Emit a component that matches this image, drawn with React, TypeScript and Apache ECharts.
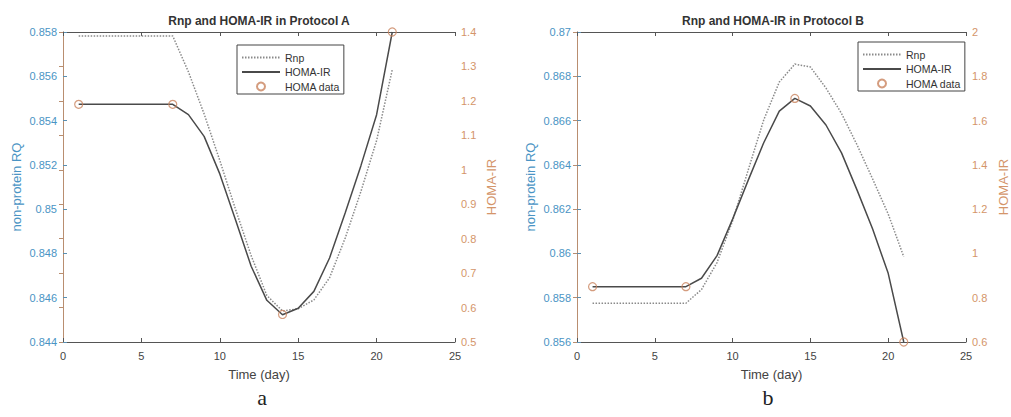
import React, { useEffect, useRef } from "react";
import * as echarts from "echarts";

// ---- data ----
const days = [1, 2, 3, 4, 5, 6, 7, 8, 9, 10, 11, 12, 13, 14, 15, 16, 17, 18, 19, 20, 21];

const rnpA = [0.85782, 0.85782, 0.85782, 0.85782, 0.85782, 0.85782, 0.85782, 0.8562, 0.8543, 0.8522, 0.8500, 0.8479, 0.8461, 0.8454, 0.8455, 0.8459, 0.8469, 0.8487, 0.8508, 0.8531, 0.8563];
const homaA = [1.19, 1.19, 1.19, 1.19, 1.19, 1.19, 1.19, 1.16, 1.097, 0.988, 0.855, 0.72, 0.621, 0.579, 0.598, 0.647, 0.744, 0.875, 1.012, 1.16, 1.40];
const dataDays = [1, 7, 14, 21];
const homaDataA = [1.19, 1.19, 0.58, 1.40];

const rnpB = [0.85775, 0.85775, 0.85775, 0.85775, 0.85775, 0.85775, 0.85775, 0.85837, 0.85959, 0.86147, 0.86376, 0.86603, 0.86774, 0.86855, 0.86842, 0.86747, 0.86632, 0.8649, 0.86336, 0.86178, 0.85985];
const homaB = [0.85, 0.85, 0.85, 0.85, 0.85, 0.85, 0.85, 0.888, 0.99, 1.155, 1.33, 1.5, 1.643, 1.7, 1.666, 1.58, 1.454, 1.286, 1.11, 0.91, 0.6];
const homaDataB = [0.85, 0.85, 1.7, 0.6];

const titles = ["Rnp and HOMA-IR in Protocol A", "Rnp and HOMA-IR in Protocol B"];
const panelLabels = ["a", "b"];
const seriesNames = ["Rnp", "HOMA-IR", "HOMA data"];

const FONT = "'Liberation Sans', Arial, Helvetica, sans-serif";
const BLUE_LABEL = "#4a94c4";
const BLUE_LINE = "#5b8fb0";
const ORANGE_LABEL = "#d4956a";
const ORANGE_LINE = "#b98e70";
const DARK = "#555";
const CIRCLE = "#c9835e";

const pairs = (xs: number[], ys: number[]) => xs.map((x, i) => [x, ys[i]]);

function buildOption() {
  const grids = [
    { left: 63, top: 32, width: 392, height: 310 },
    { left: 577, top: 32, width: 392, height: 310 },
  ];
  const yRanges = [
    { lmin: 0.844, lmax: 0.858, lint: 0.002, rmin: 0.5, rmax: 1.4, rint: 0.1, rGap: 30 },
    { lmin: 0.856, lmax: 0.87, lint: 0.002, rmin: 0.6, rmax: 2, rint: 0.2, rGap: 31 },
  ];
  const xAxis: any[] = [];
  const yAxis: any[] = [];
  const series: any[] = [];
  const rnp = [rnpA, rnpB];
  const homa = [homaA, homaB];
  const hdata = [homaDataA, homaDataB];

  for (let g = 0; g < 2; g++) {
    xAxis.push({
      type: "value",
      gridIndex: g,
      position: "bottom",
      min: 0,
      max: 25,
      interval: 5,
      name: "Time (day)",
      nameLocation: "middle",
      nameGap: 26,
      nameTextStyle: { color: "#444", fontSize: 13, fontFamily: FONT },
      axisLine: { lineStyle: { color: DARK, width: 1 } },
      axisTick: { inside: true, length: 4, lineStyle: { color: DARK } },
      axisLabel: { color: "#444", fontSize: 11, fontFamily: FONT, margin: 8 },
      splitLine: { show: false },
    });
    xAxis.push({
      type: "value",
      gridIndex: g,
      position: "top",
      min: 0,
      max: 25,
      interval: 5,
      axisLine: { lineStyle: { color: DARK, width: 1 } },
      axisTick: { inside: true, length: 4, lineStyle: { color: DARK } },
      axisLabel: { show: false },
      splitLine: { show: false },
    });
    const r = yRanges[g];
    yAxis.push({
      type: "value",
      gridIndex: g,
      position: "left",
      min: r.lmin,
      max: r.lmax,
      interval: r.lint,
      name: "non-protein RQ",
      nameLocation: "middle",
      nameGap: 40,
      nameTextStyle: { color: BLUE_LABEL, fontSize: 13, fontFamily: FONT },
      axisLine: { show: true, lineStyle: { color: BLUE_LINE, width: 1 } },
      axisTick: { show: true, inside: true, length: 4, lineStyle: { color: BLUE_LINE } },
      axisLabel: {
        color: BLUE_LABEL,
        fontSize: 11,
        fontFamily: FONT,
        margin: 6,
        formatter: (v: number) => String(parseFloat(v.toFixed(3))),
      },
      splitLine: { show: false },
    });
    yAxis.push({
      type: "value",
      gridIndex: g,
      position: "right",
      min: r.rmin,
      max: r.rmax,
      interval: r.rint,
      name: "HOMA-IR",
      nameLocation: "middle",
      nameGap: r.rGap,
      nameTextStyle: { color: ORANGE_LABEL, fontSize: 13, fontFamily: FONT },
      axisLine: { show: true, lineStyle: { color: ORANGE_LINE, width: 1 } },
      axisTick: { show: true, inside: true, length: 4, lineStyle: { color: ORANGE_LINE } },
      axisLabel: {
        color: ORANGE_LABEL,
        fontSize: 11,
        fontFamily: FONT,
        margin: 6,
        formatter: (v: number) => String(parseFloat(v.toFixed(1))),
      },
      splitLine: { show: false },
    });

    series.push({
      name: seriesNames[0],
      type: "line",
      xAxisIndex: g * 2,
      yAxisIndex: g * 2,
      data: pairs(days, rnp[g]),
      symbol: "none",
      lineStyle: { color: "#8a8a8a", width: 1.5, type: [1.5, 1.5] },
      itemStyle: { color: "#8a8a8a" },
    });
    series.push({
      name: seriesNames[1],
      type: "line",
      xAxisIndex: g * 2,
      yAxisIndex: g * 2 + 1,
      data: pairs(days, homa[g]),
      symbol: "none",
      lineStyle: { color: "#4a4a4a", width: 1.5, type: "solid" },
      itemStyle: { color: "#4a4a4a" },
    });
    series.push({
      name: seriesNames[2],
      type: "scatter",
      xAxisIndex: g * 2,
      yAxisIndex: g * 2 + 1,
      data: pairs(dataDays, hdata[g]),
      symbol: "circle",
      symbolSize: 8,
      itemStyle: { color: "rgba(255,255,255,0)", borderColor: CIRCLE, borderWidth: 1.2 },
      z: 5,
    });
  }

  const legendData = [
    { name: seriesNames[0], itemStyle: { opacity: 0 } },
    { name: seriesNames[1], itemStyle: { opacity: 0 } },
    { name: seriesNames[2] },
  ];

  const legendBase = {
    orient: "vertical",
    backgroundColor: "#fff",
    borderColor: "#444",
    borderWidth: 1,
    borderRadius: 0,
    padding: [7, 4, 2, 4],
    itemWidth: 38,
    itemHeight: 8,
    itemGap: 3.5,
    textStyle: { color: "#333", fontSize: 10.5, fontFamily: FONT },
    data: legendData,
    selectedMode: false,
  };

  const graphic: any[] = [];
  const centers = [259, 773];
  for (let g = 0; g < 2; g++) {
    graphic.push({
      type: "text",
      x: centers[g],
      y: 21,
      style: {
        text: titles[g],
        textAlign: "center",
        textVerticalAlign: "middle",
        font: `bold 12px ${FONT}`,
        fill: "#333",
      },
    });
  }
  const labelX = [262, 768];
  for (let g = 0; g < 2; g++) {
    graphic.push({
      type: "text",
      x: labelX[g],
      y: 397,
      style: {
        text: panelLabels[g],
        textAlign: "center",
        textVerticalAlign: "middle",
        font: `22px 'Liberation Serif', 'Times New Roman', serif`,
        fill: "#222",
      },
    });
  }

  return {
    animation: false,
    backgroundColor: "#fff",
    grid: grids,
    xAxis,
    yAxis,
    series,
    legend: [
      { ...legendBase, left: 237, top: 45 },
      { ...legendBase, left: 858, top: 42 },
    ],
    graphic,
  };
}

export default function App() {
  const ref = useRef<HTMLDivElement>(null);
  useEffect(() => {
    document.body.style.margin = "0";
    if (!ref.current) return;
    const chart = echarts.init(ref.current, undefined, { renderer: "svg" });
    chart.setOption(buildOption() as any);
    return () => chart.dispose();
  }, []);
  return <div ref={ref} style={{ width: 1011, height: 417 }} />;
}
